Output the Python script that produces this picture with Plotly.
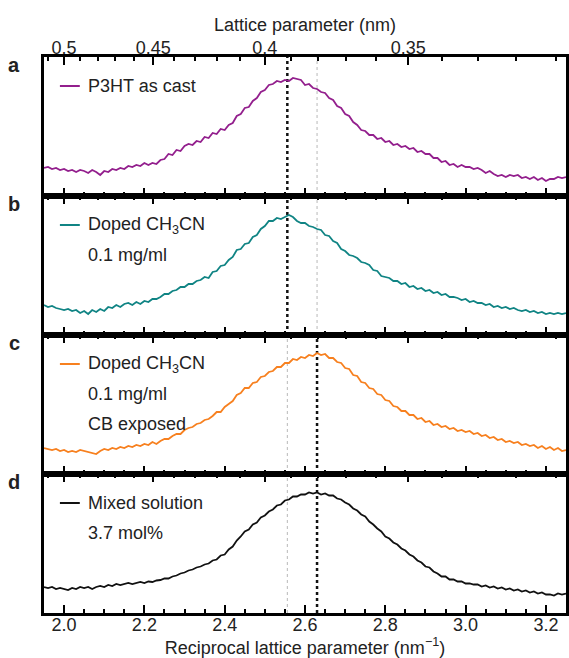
import numpy as np
import plotly.graph_objects as go

# ---------------- data ----------------
Q_START, Q_STEP, N_PTS = 1.95, 0.01, 131
q = np.round(Q_START + Q_STEP * np.arange(N_PTS), 2)

p3ht_as_cast = [
    28, 29, 27, 28, 26, 27, 25, 26, 24, 26, 25, 23, 26, 24, 21, 25, 24, 27, 26, 28,
    27, 30, 29, 31, 30, 33, 31, 33, 32, 36, 37, 42, 41, 46, 45, 50, 52, 51, 55, 54,
    59, 58, 63, 62, 67, 66, 71, 73, 80, 82, 88, 89, 95, 98, 104, 106, 111, 112, 115, 114,
    116, 115, 118, 117, 116, 111, 112, 108, 107, 104, 103, 98, 96, 90, 88, 82, 80, 74, 71, 66,
    65, 61, 61, 57, 58, 54, 55, 51, 52, 49, 50, 47, 48, 44, 45, 42, 42, 38, 38, 34,
    35, 31, 32, 29, 31, 29, 29, 27, 28, 26, 23, 25, 22, 20, 21, 19, 21, 20, 21, 18,
    19, 17, 19, 16, 18, 15, 17, 17, 19, 18, 19]

doped_ch3cn = [
    30, 28, 29, 27, 26, 25, 26, 24, 25, 22, 24, 21, 25, 23, 26, 24, 28, 27, 30, 28,
    31, 32, 30, 33, 31, 34, 33, 36, 36, 38, 41, 41, 44, 45, 48, 48, 51, 51, 54, 55,
    58, 57, 63, 64, 69, 70, 75, 78, 85, 86, 91, 92, 98, 100, 106, 109, 114, 114, 117, 116,
    118, 120, 118, 114, 112, 112, 109, 108, 106, 105, 100, 99, 94, 92, 86, 84, 80, 79, 77, 73,
    72, 70, 65, 64, 59, 58, 57, 54, 54, 51, 52, 48, 49, 46, 47, 44, 45, 42, 43, 40,
    41, 38, 38, 37, 35, 36, 33, 34, 32, 32, 30, 31, 28, 29, 27, 28, 26, 27, 25, 24,
    25, 23, 24, 22, 23, 21, 22, 21, 22, 21, 22]

doped_cb_exposed = [
    26, 25, 24, 25, 23, 24, 22, 23, 22, 24, 23, 22, 21, 20, 23, 25, 24, 26, 25, 27,
    26, 28, 27, 29, 28, 30, 29, 32, 30, 33, 35, 35, 38, 40, 40, 44, 46, 47, 50, 51,
    54, 55, 58, 62, 62, 67, 70, 73, 79, 81, 86, 86, 91, 92, 97, 98, 102, 103, 107, 107,
    111, 111, 115, 114, 117, 116, 119, 118, 121, 119, 120, 116, 116, 112, 111, 106, 105, 99, 98, 92,
    91, 86, 85, 80, 79, 74, 73, 68, 67, 63, 63, 59, 59, 55, 56, 52, 53, 49, 50, 47,
    48, 45, 46, 43, 44, 42, 43, 40, 41, 38, 39, 36, 37, 34, 35, 32, 33, 31, 32, 29,
    30, 28, 29, 26, 28, 25, 27, 24, 26, 23, 24]

mixed_solution = [
    26, 25, 26, 24, 25, 24, 23, 25, 24, 26, 25, 26, 24, 26, 27, 26, 28, 27, 29, 28,
    29, 30, 29, 30, 31, 30, 31.5, 31, 32.5, 33, 34.5, 34.5, 36.5, 37.5, 39.5,
    40.5, 42.5, 43.5, 45.5, 46.5, 48.5, 49.5, 52.5, 53.5, 57.5,
    58.5, 63.5, 66.5, 72.5, 76.5, 81.5, 83.5, 88.5, 90.5, 95.5,
    97.5, 101.5, 103.5, 107.5, 108.5, 112.5, 113.5, 116.5, 116.5, 118.5,
    118.5, 120.5, 119.5, 120.5, 118.5, 119.5, 117.5, 117.5, 114.5, 113.5,
    110.5, 108.5, 104.5, 102.5, 98.5, 96.5, 91.5, 88.5, 84.5, 81.5,
    76.5, 74.5, 70.5, 68.5, 64.5, 62.5, 58.5, 56.5, 52.5, 50.5,
    46.5, 45.5, 41.5, 39.5, 36.5, 36.5, 33.5, 33.5, 31.5, 31.5,
    29.5, 29.5, 28.5, 28.5, 26.5, 27.5, 25.5, 26.5, 24.5, 25.5,
    23.5, 24.5, 22.5, 23.5, 21.5, 22.5, 20.5, 21.5, 19.5, 20.5,
    18.5, 18.5, 17.5, 19.5, 18.5, 19.5]

series = [p3ht_as_cast, doped_ch3cn, doped_cb_exposed, mixed_solution]
series_colors = ["#931f8d", "#108484", "#f7801f", "#111111"]
legend_lines = [
    ["P3HT as cast"],
    ["Doped CH<sub>3</sub>CN", "0.1 mg/ml"],
    ["Doped CH<sub>3</sub>CN", "0.1 mg/ml", "CB exposed"],
    ["Mixed solution", "3.7 mol%"],
]
panel_letters = ["a", "b", "c", "d"]

lattice_major = [0.5, 0.45, 0.4, 0.35]
lattice_major_text = ["0.5", "0.45", "0.4", "0.35"]
lattice_minor = [0.51, 0.49, 0.48, 0.47, 0.46, 0.44, 0.43, 0.42, 0.41, 0.39,
                 0.38, 0.37, 0.36, 0.34, 0.33, 0.32, 0.31]

Q_PEAK_UNDOPED = 2.556
Q_PEAK_DOPED = 2.630
bold_line = [Q_PEAK_UNDOPED, Q_PEAK_UNDOPED, Q_PEAK_DOPED, Q_PEAK_DOPED]
faint_line = [Q_PEAK_DOPED, Q_PEAK_DOPED, Q_PEAK_UNDOPED, Q_PEAK_UNDOPED]

X_RANGE = [1.95, 3.25]
Y_RANGE = [0, 139]

# ---------------- figure ----------------
FONT = "Liberation Sans, Arial, Helvetica, sans-serif"
TXT = "#222222"
W, H = 569, 658
M_L, M_R, M_T, M_B = 44, 0, 57, 45
plot_h = H - M_T - M_B
plot_w = W - M_L - M_R
panel_h = plot_h / 4

fig = go.Figure()
layout = dict(
    width=W, height=H,
    margin=dict(l=M_L, r=M_R, t=M_T, b=M_B, pad=0),
    paper_bgcolor="white", plot_bgcolor="white",
    showlegend=False,
    font=dict(family=FONT, size=18, color=TXT),
)
shapes = []
annotations = []

for i in range(4):
    xb = "x" if i == 0 else f"x{i+1}"
    yb = "y" if i == 0 else f"y{i+1}"
    xt = f"x{i+5}"
    dom = [1 - (i + 1) / 4, 1 - i / 4]

    fig.add_trace(go.Scatter(x=q, y=series[i], mode="lines", xaxis=xb, yaxis=yb,
                             line=dict(color=series_colors[i], width=1.8),
                             hoverinfo="skip"))
    # invisible companion so the top (lattice parameter) axis is drawn
    fig.add_trace(go.Scatter(x=q, y=series[i], mode="lines", xaxis=xt, yaxis=yb,
                             line=dict(color="rgba(0,0,0,0)", width=0),
                             hoverinfo="skip"))

    bottom = dict(
        domain=[0, 1], range=X_RANGE, anchor=yb,
        showline=True, linewidth=3, linecolor="black", mirror=False,
        ticks="inside", ticklen=8, tickwidth=2, tickcolor="black",
        tick0=2.0, dtick=0.2, tickformat=".1f",
        minor=dict(tick0=2.0, dtick=0.05, ticks="inside", ticklen=4,
                   tickwidth=1.5, tickcolor="black", showgrid=False),
        showticklabels=(i == 3), showgrid=False, zeroline=False,
        tickfont=dict(size=18, family=FONT, color=TXT),
        ticklabelstandoff=-7,
    )
    if i == 3:
        bottom["title"] = dict(text="Reciprocal lattice parameter (nm<sup>−1</sup>)",
                               font=dict(size=18, family=FONT, color=TXT),
                               standoff=8)
    top = dict(
        overlaying=xb, side="top", anchor=yb, range=X_RANGE,
        tickmode="array", tickvals=[1 / d for d in lattice_major],
        ticktext=lattice_major_text,
        showline=True, linewidth=3, linecolor="black",
        ticks="inside", ticklen=8, tickwidth=2, tickcolor="black",
        minor=dict(tickmode="array", tickvals=[1 / d for d in lattice_minor],
                   ticks="inside", ticklen=4, tickwidth=1.5, tickcolor="black",
                   showgrid=False),
        showticklabels=(i == 0), showgrid=False, zeroline=False,
        tickfont=dict(size=18, family=FONT, color=TXT),
        ticklabelstandoff=-7,
    )
    if i == 0:
        top["title"] = dict(text="Lattice parameter (nm)",
                            font=dict(size=18, family=FONT, color=TXT),
                            standoff=2)
    yax = dict(domain=dom, range=Y_RANGE, anchor=xb,
               showline=True, linewidth=3, linecolor="black", mirror=True,
               ticks="", showticklabels=False, showgrid=False, zeroline=False)

    layout["xaxis" if i == 0 else f"xaxis{i+1}"] = bottom
    layout[f"xaxis{i+5}"] = top
    layout["yaxis" if i == 0 else f"yaxis{i+1}"] = yax

    # reference peak lines
    shapes.append(dict(type="line", xref=xb, yref=f"{yb} domain",
                       x0=faint_line[i], x1=faint_line[i], y0=0, y1=1,
                       line=dict(color="#b8b8b8", width=1, dash="dot"), layer="below"))
    shapes.append(dict(type="line", xref=xb, yref=f"{yb} domain",
                       x0=bold_line[i], x1=bold_line[i], y0=0, y1=1,
                       line=dict(color="#111111", width=2.5, dash="dot"), layer="below"))

    # legend block
    for k, txt in enumerate(legend_lines[i]):
        yd = 1 - (29 + 30 * k) / panel_h
        if k == 0:
            shapes.append(dict(type="line", xref="paper", yref=f"{yb} domain",
                               x0=(60 - M_L) / plot_w, x1=(80 - M_L) / plot_w,
                               y0=yd, y1=yd,
                               line=dict(color=series_colors[i], width=2)))
        annotations.append(dict(text=txt, xref="paper", yref=f"{yb} domain",
                                x=(86 - M_L) / plot_w, y=yd, xanchor="left",
                                yanchor="middle", showarrow=False,
                                font=dict(size=18, family=FONT, color=TXT)))
    # panel letter
    annotations.append(dict(text=f"<b>{panel_letters[i]}</b>", xref="paper",
                            yref=f"{yb} domain", x=(14 - M_L) / plot_w,
                            y=1 - 8 / panel_h, xanchor="center", yanchor="middle",
                            showarrow=False,
                            font=dict(size=20, family=FONT, color=TXT)))

layout["shapes"] = shapes
layout["annotations"] = annotations
fig.update_layout(**layout)
fig.write_html("out.html")
